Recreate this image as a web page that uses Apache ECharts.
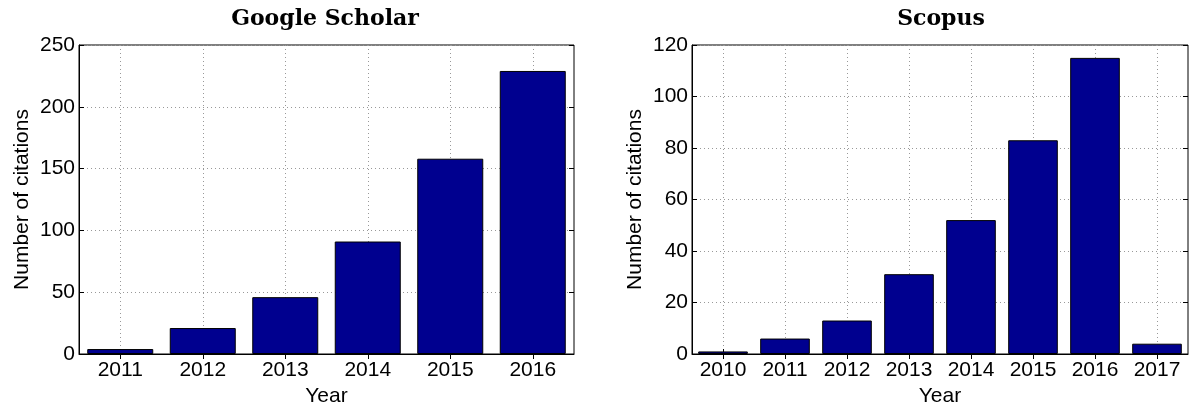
<!DOCTYPE html>
<html><head><meta charset="utf-8">
<script src="https://cdn.jsdelivr.net/npm/echarts@6/dist/echarts.min.js"></script>
<style>html,body{margin:0;padding:0;background:#fff}#c{width:1190px;height:403px}</style>
</head><body><div id="c"></div>
<script>
const gsYears = ['2011','2012','2013','2014','2015','2016'];
const gsCitations = [4, 21, 46, 91, 158, 229];
const scYears = ['2010','2011','2012','2013','2014','2015','2016','2017'];
const scCitations = [1, 6, 13, 31, 52, 83, 115, 4];
const titles = ['Google Scholar', 'Scopus'];

const FONT = 'Liberation Sans';
const FS = 21;
const chart = echarts.init(document.getElementById('c'));
const gridStyle = {show: true, lineStyle: {color: '#999', type: [1, 3], width: 1}};
function xAx(i, cats, top) {
  return {
    type: 'category', gridIndex: i, data: cats, position: top ? 'top' : 'bottom',
    boundaryGap: true,
    axisLine: {show: !top, lineStyle: {color: '#000', width: 1}},
    axisTick: {show: true, inside: true, alignWithLabel: true, length: 5, lineStyle: {color: '#000'}},
    axisLabel: {show: !top, color: '#000', fontFamily: FONT, fontSize: FS, margin: 6},
    splitLine: top ? {show: false} : Object.assign({alignWithLabel: true}, gridStyle),
    name: top ? '' : 'Year', nameLocation: 'middle', nameGap: 29,
    nameTextStyle: {color: '#000', fontFamily: FONT, fontSize: FS}
  };
}
function yAx(i, max, interval, right) {
  return {
    type: 'value', gridIndex: i, min: 0, max: max, interval: interval, position: right ? 'right' : 'left',
    axisLine: {show: !right, lineStyle: {color: '#000', width: 1}},
    axisTick: {show: true, inside: true, length: 5, lineStyle: {color: '#000'}},
    axisLabel: {show: !right, color: '#000', fontFamily: FONT, fontSize: FS, margin: 4},
    splitLine: right ? {show: false} : gridStyle,
    name: right ? '' : 'Number of citations', nameLocation: 'middle', nameGap: 46,
    nameTextStyle: {color: '#000', fontFamily: FONT, fontSize: FS}
  };
}
const barStyle = {color: '#00008F', borderColor: '#000', borderWidth: 1};
const titleStyle = {fontFamily: 'DejaVu Serif', fontWeight: 'bold', fontSize: 22, color: '#000'};
chart.setOption({
  animation: false,
  title: [
    {text: titles[0], left: 320, top: 3, textAlign: 'center', textStyle: titleStyle},
    {text: titles[1], left: 936, top: 3, textAlign: 'center', textStyle: titleStyle}
  ],
  grid: [
    {left: 79, right: 616, top: 45, bottom: 49, show: true, borderColor: '#000', borderWidth: 1, outerBoundsMode: 'none', containLabel: false},
    {left: 692, right: 2, top: 45, bottom: 49, show: true, borderColor: '#000', borderWidth: 1, outerBoundsMode: 'none', containLabel: false}
  ],
  xAxis: [xAx(0, gsYears, false), xAx(0, gsYears, true), xAx(1, scYears, false), xAx(1, scYears, true)],
  yAxis: [yAx(0, 250, 50, false), yAx(0, 250, 50, true), yAx(1, 120, 20, false), yAx(1, 120, 20, true)],
  series: [
    {type: 'bar', xAxisIndex: 0, yAxisIndex: 0, data: gsCitations, barCategoryGap: '20%', itemStyle: barStyle},
    {type: 'bar', xAxisIndex: 2, yAxisIndex: 2, data: scCitations, barCategoryGap: '20%', itemStyle: barStyle}
  ]
});
</script></body></html>
